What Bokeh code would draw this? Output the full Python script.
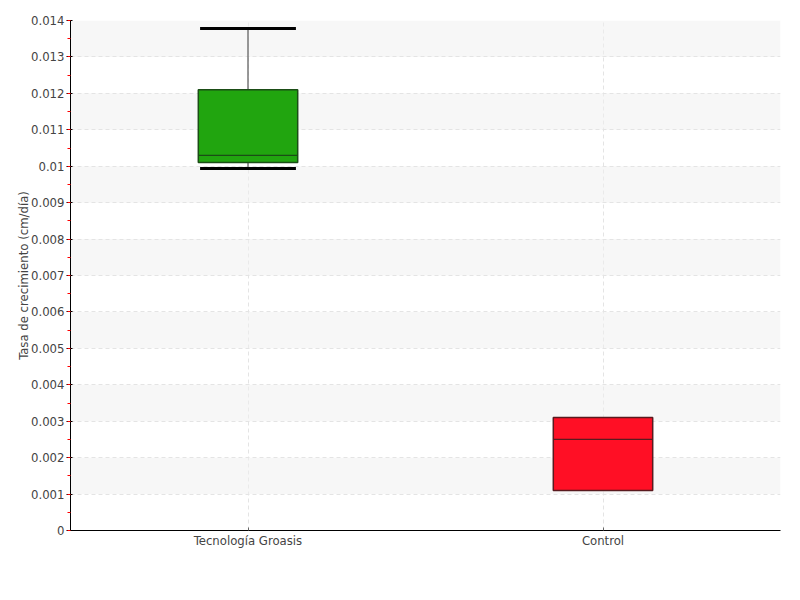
from bokeh.plotting import figure
from bokeh.models import Range1d, FactorRange, SingleIntervalTicker, ColumnDataSource, CustomJSTickFormatter
from bokeh.embed import file_html
from bokeh.resources import INLINE

categories = ["Tecnología Groasis", "Control"]
q1 = [0.0101, 0.0011]
median = [0.0103, 0.0025]
q3 = [0.0121, 0.0031]
lower = [0.00994, 0.0011]
upper = [0.01378, 0.0031]
colors = ["#21a50f", "#ff0f25"]
lines = ["#1b4d16", "#5a1a1f"]

FONT = "DejaVu Sans Condensed"
BOX_W = 0.28
CAP_W = 0.27

p = figure(x_range=FactorRange(*categories, range_padding=0), y_range=Range1d(0, 0.014),
           frame_width=710, frame_height=510, output_backend="svg", toolbar_location=None,
           min_border_left=70, min_border_top=20, min_border_right=4, min_border_bottom=50)
p.outline_line_color = None

xc = [i + 0.5 for i in range(len(categories))]
src = ColumnDataSource(dict(cat=categories, x=xc,
                            xl=[x - BOX_W / 2 for x in xc], xr=[x + BOX_W / 2 for x in xc],
                            q1=q1, med=median, q3=q3, lo=lower, up=upper, col=colors, lc=lines))
p.segment(x0="cat", y0="q3", x1="cat", y1="up", source=src, line_color="#777777", line_width=1.5)
p.segment(x0="cat", y0="lo", x1="cat", y1="q1", source=src, line_color="#777777", line_width=1.5)
p.vbar(x="cat", width=BOX_W, bottom="q1", top="q3", source=src, fill_color="col",
       line_color="lc", line_width=1.5)
p.segment(x0="xl", y0="med", x1="xr", y1="med", source=src, line_color="lc", line_width=1.2)

cap_idx = [i for i in range(len(categories)) if upper[i] > q3[i] or lower[i] < q1[i]]
cap_src = ColumnDataSource(dict(xl=[xc[i] - CAP_W / 2 for i in cap_idx],
                                xr=[xc[i] + CAP_W / 2 for i in cap_idx],
                                lo=[lower[i] for i in cap_idx], up=[upper[i] for i in cap_idx]))
p.segment(x0="xl", y0="up", x1="xr", y1="up", source=cap_src, line_color="black", line_width=3)
p.segment(x0="xl", y0="lo", x1="xr", y1="lo", source=cap_src, line_color="black", line_width=3)

p.yaxis.ticker = SingleIntervalTicker(interval=0.001, num_minor_ticks=2)
p.yaxis.formatter = CustomJSTickFormatter(code="return String(parseFloat(tick.toFixed(4)));")
p.ygrid.ticker = SingleIntervalTicker(interval=0.001)
p.ygrid.grid_line_color = "#e4e4e4"
p.ygrid.grid_line_dash = "4 3"
p.ygrid.band_fill_color = "#f0f0f0"
p.ygrid.band_fill_alpha = 0.5
p.xgrid.grid_line_color = "#e4e4e4"
p.xgrid.grid_line_dash = "4 3"

for ax in (p.xaxis, p.yaxis):
    ax.axis_line_color = "black"
    ax.major_label_text_font = FONT
    ax.major_label_text_font_size = "13px"
    ax.major_label_text_color = "#444444"
    ax.axis_label_text_font = FONT
    ax.axis_label_text_font_style = "normal"
    ax.axis_label_text_color = "#444444"

p.yaxis.axis_label = "Tasa de crecimiento (cm/día)"
p.yaxis.axis_label_text_font_size = "13px"
p.yaxis.axis_label_standoff = -3
p.yaxis.major_tick_line_color = "black"
p.yaxis.major_tick_in = 2
p.yaxis.major_tick_out = 4
p.yaxis.minor_tick_line_color = "red"
p.yaxis.minor_tick_in = 0
p.yaxis.minor_tick_out = 3
p.yaxis.major_label_standoff = 2

p.xaxis.major_tick_in = 3
p.xaxis.major_tick_out = 0
p.xaxis.major_tick_line_color = "#666666"
p.xaxis.major_label_standoff = 2

open("out.html", "w").write(file_html(p, INLINE))
